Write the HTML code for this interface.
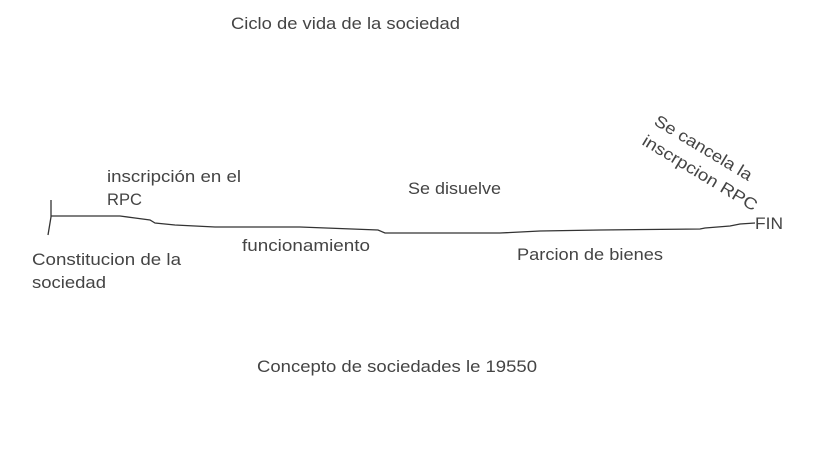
<!DOCTYPE html>
<html><head><meta charset="utf-8"><style>
html,body{margin:0;padding:0;background:#fff;}
svg text{font-family:"Liberation Sans",Arial,sans-serif;font-size:16.5px;fill:#444;}
</style></head><body>
<svg width="819" height="460" viewBox="0 0 819 460" xmlns="http://www.w3.org/2000/svg">
<text x="231" y="29" textLength="229" lengthAdjust="spacingAndGlyphs">Ciclo de vida de la sociedad</text>
<text x="107" y="182" textLength="134" lengthAdjust="spacingAndGlyphs">inscripción en el</text>
<text x="107" y="205" textLength="35" lengthAdjust="spacingAndGlyphs">RPC</text>
<text x="408" y="194" textLength="93" lengthAdjust="spacingAndGlyphs">Se disuelve</text>
<text x="32" y="265" textLength="149" lengthAdjust="spacingAndGlyphs">Constitucion de la</text>
<text x="32" y="288" textLength="74" lengthAdjust="spacingAndGlyphs">sociedad</text>
<text x="242" y="251" textLength="128" lengthAdjust="spacingAndGlyphs">funcionamiento</text>
<text x="517" y="260" textLength="146" lengthAdjust="spacingAndGlyphs">Parcion de bienes</text>
<text x="755" y="229" textLength="28" lengthAdjust="spacingAndGlyphs">FIN</text>
<text x="257" y="372" textLength="280" lengthAdjust="spacingAndGlyphs">Concepto de sociedades le 19550</text>
<text transform="translate(653,124) rotate(31)" textLength="111" lengthAdjust="spacingAndGlyphs">Se cancela la</text>
<text transform="translate(641,144) rotate(31)" textLength="131" lengthAdjust="spacingAndGlyphs">inscrpcion RPC</text>
<g fill="none" stroke="#333" stroke-width="1.3">
<path d="M51,200 L51,217 L48,235"/>
<path d="M51,216 L120,216 L135,218 L150,220 L155,223 L175,225 L215,227 L300,227 L378,230 L385,233 L500,233 L540,231 L600,230 L700,229 L705,228 L730,226 L740,224 L755,223"/>
</g>
</svg>
</body></html>
